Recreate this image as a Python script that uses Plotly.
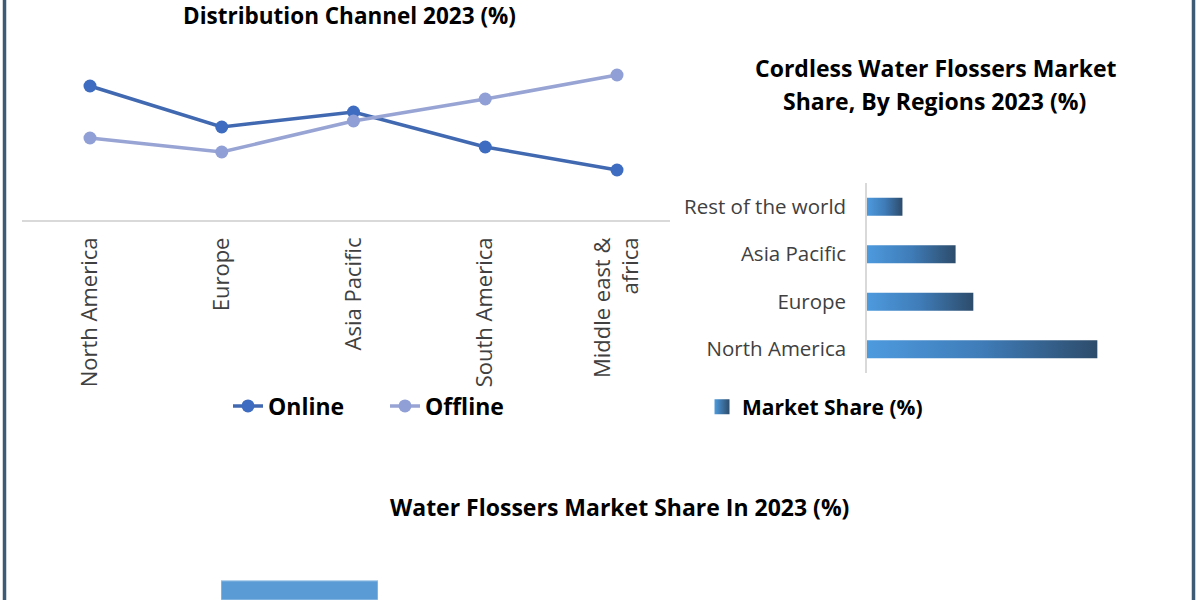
import plotly.graph_objects as go

# ---- Data ----
line_regions = ["North America", "Europe", "Asia Pacific", "South America", "Middle east &<br>africa"]
online_share = [53.6, 37.2, 43.2, 29.2, 20.0]
offline_share = [32.8, 27.2, 39.6, 48.4, 58.0]

bar_regions = ["North America", "Europe", "Asia Pacific", "Rest of the world"]
market_share = [39, 18, 15, 6]

bottom_segments = ["Segment A"]
bottom_share = [32]

FONT = "Open Sans"
fig = go.Figure()

# ---- Line chart: distribution channel ----
fig.add_trace(go.Scatter(
    x=line_regions, y=online_share, name="Online", mode="lines+markers",
    line=dict(color="#4169b2", width=3.5),
    marker=dict(color="#3d6cc0", size=13),
    xaxis="x", yaxis="y", legend="legend",
))
fig.add_trace(go.Scatter(
    x=line_regions, y=offline_share, name="Offline", mode="lines+markers",
    line=dict(color="#98a4d4", width=3.5),
    marker=dict(color="#909fd6", size=13),
    xaxis="x", yaxis="y", legend="legend",
))

# ---- Horizontal bar chart with gradient fill ----
half = 0.19
for i, (name, v) in enumerate(zip(bar_regions, market_share)):
    fig.add_trace(go.Scatter(
        x=[0, v, v, 0, 0], y=[i - half, i - half, i + half, i + half, i - half],
        mode="lines", fill="toself", line=dict(width=0, color="#3d72a8"),
        fillgradient=dict(type="horizontal",
                          colorscale=[[0, "#4d9ade"], [0.5, "#3f7cb8"], [1, "#2d4c6b"]]),
        name=name, showlegend=False, hoverinfo="x+text", text=name,
        xaxis="x2", yaxis="y2",
    ))
fig.add_trace(go.Scatter(
    x=[None], y=[None], mode="markers", name="Market Share (%)",
    marker=dict(symbol="square", size=15, color="#4d9ade",
                gradient=dict(type="horizontal", color="#2d4c6b")),
    xaxis="x2", yaxis="y2", legend="legend2",
))

# ---- Bottom chart (cut off) ----
fig.add_trace(go.Bar(
    x=bottom_segments, y=bottom_share, marker=dict(color="#5b9bd5", line=dict(color="#a8cbec", width=1)),
    width=1, showlegend=False, xaxis="x3", yaxis="y3",
))

fig.update_layout(
    width=1200, height=600, margin=dict(l=0, r=0, t=0, b=0),
    paper_bgcolor="white", plot_bgcolor="rgba(0,0,0,0)",
    font=dict(family=FONT, color="#404040"),
    xaxis=dict(domain=[22/1200, 670/1200], range=[-0.516, 4.402], type="category",
               showline=True, linecolor="#d9d9d9", linewidth=1.5, showgrid=False,
               ticks="", tickangle=-90, tickfont=dict(size=22, color="#404040"),
               ticklabelstandoff=7, zeroline=False),
    yaxis=dict(domain=[380/600, 555/600], range=[0, 70], visible=False),
    xaxis2=dict(domain=[867/1200, 1170/1200], range=[0, 51.3], visible=False),
    yaxis2=dict(domain=[227/600, 417/600], range=[-0.5, 3.5],
                tickvals=list(range(len(bar_regions))), ticktext=bar_regions,
                showline=True, linecolor="#d9d9d9", linewidth=1.5, showgrid=False,
                zeroline=False, ticks="", tickfont=dict(size=20.5, color="#404040"),
                ticklabelstandoff=15, anchor="x2"),
    xaxis3=dict(domain=[221/1200, 378/1200], range=[-0.5, 0.5], visible=False),
    yaxis3=dict(domain=[0, 60/600], range=[0, 100], visible=False, anchor="x3"),
    legend=dict(orientation="h", x=228/1200, y=1-406/600, xanchor="left", yanchor="middle",
                font=dict(size=23, color="#000000", family=FONT, weight="bold"),
                bgcolor="rgba(0,0,0,0)", entrywidth=112, entrywidthmode="pixels"),
    legend2=dict(orientation="h", x=702/1200, y=1-407/600, xanchor="left", yanchor="middle",
                 font=dict(size=21, color="#000000", family=FONT, weight="bold"),
                 bgcolor="rgba(0,0,0,0)", itemwidth=30),
    annotations=[
        dict(text="<b>Distribution Channel 2023 (%)</b>", x=349/1200, y=1-16/600,
             xref="paper", yref="paper", showarrow=False, xanchor="center", yanchor="middle",
             font=dict(size=22.5, color="#000000")),
        dict(text="<b>Cordless Water Flossers Market</b>", x=936/1200, y=1-68/600,
             xref="paper", yref="paper", showarrow=False, xanchor="center", yanchor="middle",
             font=dict(size=23, color="#000000")),
        dict(text="<b>Share, By Regions 2023 (%)</b>", x=934/1200, y=1-101/600,
             xref="paper", yref="paper", showarrow=False, xanchor="center", yanchor="middle",
             font=dict(size=23, color="#000000")),
        dict(text="<b>Water Flossers Market Share In 2023 (%)</b>", x=619/1200, y=1-507/600,
             xref="paper", yref="paper", showarrow=False, xanchor="center", yanchor="middle",
             font=dict(size=23, color="#000000")),
    ],
    shapes=[
        dict(type="line", xref="paper", yref="paper", x0=4.5/1200, x1=4.5/1200, y0=0, y1=1,
             line=dict(color="#3e5b76", width=3.5)),
        dict(type="line", xref="paper", yref="paper", x0=1193.5/1200, x1=1193.5/1200, y0=0, y1=1,
             line=dict(color="#3e5b76", width=3.5)),
    ],
)

fig.write_html("out.html", config={"displayModeBar": False},
               post_script="document.body.style.margin='0';document.body.style.overflow='hidden';")
